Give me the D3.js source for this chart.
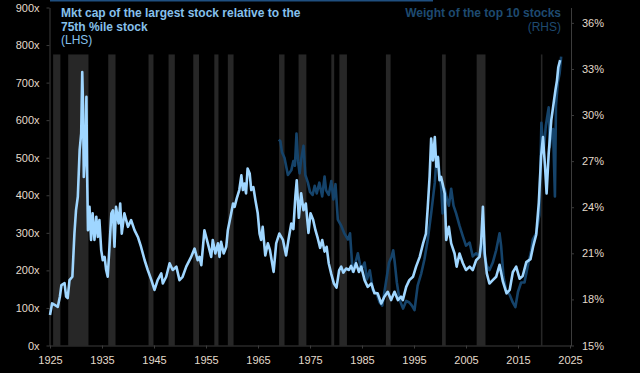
<!DOCTYPE html>
<html>
<head>
<meta charset="utf-8">
<script src="https://cdn.jsdelivr.net/npm/d3@7"></script>
<style>
  html, body { margin: 0; padding: 0; background: #000; }
  svg { display: block; font-family: "Liberation Sans", Arial, sans-serif; }
  .axis text { fill: #e3dacb; font-size: 11px; }
  .axis path, .axis line { stroke: #3c3c3c; }
</style>
</head>
<body>
<div id="chart"></div>
<script>
// Chart data

// Mkt cap of largest stock / 75th %ile stock (LHS, x)
const lhsYears = [1925.0, 1925.4, 1925.9, 1926.5, 1926.9, 1927.2, 1927.8, 1928.1, 1928.4, 1928.75,
  1929.3, 1929.7, 1930.0, 1930.35, 1930.7, 1931.0, 1931.2, 1931.35, 1931.5, 1931.8,
  1932.0, 1932.15, 1932.3, 1932.6, 1932.9, 1933.2, 1933.55, 1933.9, 1934.2, 1934.5,
  1934.85, 1935.15, 1935.5, 1935.8, 1936.1, 1936.4, 1936.8, 1937.1, 1937.4, 1937.7,
  1938.2, 1938.5, 1938.8, 1939.3, 1940.0, 1940.6, 1941.25, 1941.9, 1942.5, 1943.2,
  1943.8, 1944.5, 1945.1, 1945.7, 1946.4, 1946.7, 1947.35, 1948.0, 1948.6, 1949.3,
  1949.9, 1950.5, 1951.2, 1952.15, 1952.8, 1953.4, 1953.75, 1954.1, 1954.7, 1955.35,
  1956.0, 1956.3, 1956.8, 1957.3, 1957.6, 1957.9, 1958.4, 1958.9, 1959.2, 1959.85,
  1960.2, 1960.5, 1960.9, 1961.4, 1961.8, 1962.1, 1962.4, 1962.7, 1963.0, 1963.4,
  1963.7, 1964.1, 1964.5, 1964.95, 1965.3, 1965.6, 1965.9, 1966.4, 1966.9, 1967.3,
  1968.0, 1968.5, 1969.1, 1969.8, 1970.4, 1970.9, 1971.4, 1971.8, 1972.2, 1972.45,
  1972.85, 1973.3, 1973.75, 1974.2, 1974.7, 1975.1, 1975.6, 1976.05, 1976.5, 1976.95,
  1977.35, 1977.8, 1978.2, 1978.6, 1979.1, 1979.6, 1980.1, 1980.6, 1981.0, 1981.4,
  1981.95, 1982.5, 1982.9, 1983.35, 1983.85, 1984.4, 1984.85, 1985.5, 1986.1, 1986.8,
  1987.4, 1988.0, 1988.7, 1989.3, 1989.95, 1990.6, 1991.25, 1991.9, 1992.5, 1992.85,
  1993.5, 1994.1, 1994.8, 1995.4, 1996.1, 1996.75, 1997.3, 1997.65, 1998.0, 1998.3,
  1998.65, 1999.0, 1999.3, 1999.6, 1999.9, 2000.2, 2000.5, 2000.9, 2001.2, 2001.7,
  2002.15, 2002.8, 2003.2, 2003.75, 2004.4, 2005.0, 2005.7, 2006.3, 2006.95, 2007.6,
  2007.9, 2008.25, 2008.6, 2009.0, 2009.5, 2010.15, 2010.8, 2011.45, 2012.1, 2012.8,
  2013.4, 2014.0, 2014.65, 2015.3, 2015.9, 2016.6, 2017.4, 2017.9, 2018.5, 2019.0,
  2019.45, 2019.8, 2020.2, 2020.5, 2020.9, 2021.4, 2021.7, 2022.2, 2022.5, 2022.75, 2023.1]
const lhsValues = [81, 112, 108, 103, 130, 161, 166, 130, 126, 174,
  183, 299, 360, 396, 520, 565, 728, 640, 449, 520,
  662, 449, 307, 369, 281, 352, 281, 343, 289, 334,
  254, 227, 236, 201, 183, 254, 352, 360, 263, 369,
  325, 378, 298, 352, 316, 334, 307, 289, 263, 227,
  201, 174, 148, 174, 192, 165, 183, 219, 201, 210,
  174, 183, 210, 236, 258, 227, 236, 214, 307, 272,
  236, 281, 245, 272, 236, 276, 245, 263, 307, 352,
  378, 369, 391, 414, 453, 414, 431, 405, 471, 458,
  414, 422, 387, 352, 298, 281, 316, 240, 272, 254,
  196, 272, 298, 281, 240, 285, 325, 310, 400, 440,
  340, 405, 360, 378, 300, 352, 335, 307, 285, 260,
  281, 250, 263, 219, 190, 165, 154, 200, 210, 194,
  205, 201, 212, 196, 219, 196, 210, 174, 156, 165,
  139, 139, 112, 130, 143, 121, 143, 121, 130, 121,
  156, 174, 183, 210, 236, 272, 298, 369, 449, 551,
  493, 555, 476, 502, 440, 449, 431, 405, 281, 316,
  272, 245, 210, 245, 219, 201, 210, 201, 227, 236,
  272, 369, 245, 192, 165, 174, 183, 215, 170, 139,
  148, 195, 210, 178, 185, 222, 230, 263, 295, 380,
  505, 555, 476, 405, 511, 600, 630, 680, 706, 741, 760]

// Weight of the top 10 stocks (RHS, %)
const rhsYears = [1969.0, 1969.3, 1969.6, 1970.1, 1970.75, 1971.4, 1971.8, 1972.1, 1972.4, 1972.7,
  1973.0, 1973.3, 1973.75, 1974.1, 1974.6, 1975.0, 1975.5, 1975.9, 1976.3, 1976.8,
  1977.35, 1977.8, 1978.1, 1978.6, 1979.1, 1979.5, 1979.9, 1980.35, 1981.0, 1981.6,
  1982.3, 1982.7, 1983.2, 1983.75, 1984.2, 1984.85, 1985.5, 1985.95, 1986.5, 1987.1,
  1987.8, 1988.4, 1988.9, 1989.6, 1990.2, 1990.7, 1991.0, 1991.3, 1991.7, 1992.2,
  1992.9, 1993.5, 1994.1, 1994.6, 1995.1, 1995.7, 1996.4, 1997.0, 1997.65, 1998.3,
  1999.0, 1999.3, 1999.6, 1999.9, 2000.2, 2000.5, 2000.9, 2001.2, 2001.7, 2002.15,
  2002.6, 2003.1, 2003.75, 2004.4, 2005.0, 2005.7, 2006.3, 2006.95, 2007.6, 2008.1,
  2008.6, 2009.0, 2009.5, 2010.15, 2010.8, 2011.45, 2011.75, 2012.2, 2012.7, 2013.4,
  2014.0, 2014.5, 2015.0, 2015.6, 2016.25, 2016.9, 2017.55, 2017.85, 2018.5, 2019.1,
  2019.5, 2019.9, 2020.35, 2020.9, 2021.1, 2021.5, 2021.75, 2022.1, 2022.3, 2022.65,
  2023.0, 2023.3]
const rhsValues = [28.4, 28.3, 27.6, 27.2, 26.1, 26.4, 27.0, 26.7, 28.8, 27.0,
  26.2, 27.1, 28.0, 26.1, 25.6, 25.0, 24.8, 25.4, 24.9, 25.6,
  24.7, 26.0, 25.1, 24.8, 25.7, 24.5, 25.5, 23.2, 22.8, 22.3,
  21.9, 22.3, 19.8, 20.4, 21.0, 19.9, 20.4, 19.3, 19.9, 18.6,
  18.4, 17.8, 17.6, 19.1, 20.4, 20.8, 21.2, 20.4, 19.1, 18.0,
  17.4, 17.9, 17.8, 17.6, 17.3, 18.9, 19.7, 20.6, 21.9, 23.6,
  25.6, 27.1, 27.3, 26.2, 25.4, 23.6, 25.2, 24.7, 24.1, 25.2,
  24.1, 23.6, 22.8, 22.1, 21.5, 21.7, 20.8, 21.0, 20.8, 21.7,
  20.8, 20.2, 19.9, 20.4, 21.2, 22.3, 21.5, 19.5, 18.6, 18.3,
  17.8, 17.5, 18.5, 19.1, 19.1, 20.2, 21.2, 21.9, 22.3, 23.5,
  29.5, 27.5, 29.3, 30.5, 27.9, 29.0, 29.1, 24.7, 30.6, 32.1,
  32.7, 33.8]

// Shaded recession periods (as placed in the picture)
const recessionStart = [1925.6, 1928.5, 1936.2, 1943.95, 1947.8, 1952.55, 1956.6, 1959.2, 1969.05, 1972.8,
  1979.1, 1980.65, 1989.6, 2000.4, 2007.05, 2019.4]
const recessionEnd = [1927.0, 1932.4, 1937.6, 1944.9, 1949.0, 1953.65, 1957.4, 1960.3, 1970.1, 1974.3,
  1979.65, 1982.1, 1990.5, 2001.1, 2008.75, 2019.7]
const shadeTop = 775

// Tick labels
const xTicks = [1925, 1935, 1945, 1955, 1965, 1975, 1985, 1995, 2005, 2015, 2025]
const lhsTicks = [0, 100, 200, 300, 400, 500, 600, 700, 800, 900]
const rhsTicks = [15, 18, 21, 24, 27, 30, 33, 36]

const width = 640
const height = 373
const lightBlue = '#9fd6ff'
const darkBlue = '#15436a'

const svg = d3.select('#chart')
  .append('svg')
  .attr('width', width)
  .attr('height', height)

svg.append('rect')
  .attr('width', width)
  .attr('height', height)
  .attr('fill', '#000')

// thin blue strip along the top edge
svg.append('rect')
  .attr('x', 50).attr('y', 0)
  .attr('width', 383).attr('height', 1.5)
  .attr('fill', '#1f4f80')

// Scales
const x = d3.scaleLinear().domain([1925, 2025]).range([50, 570])
const yL = d3.scaleLinear().domain([0, 900]).range([345.5, 7.5])
const yR = d3.scaleLinear().domain([15, 37]).range([345.5, 7.5])

// Recession bars
svg.append('g')
  .selectAll('rect')
  .data(recessionStart)
  .enter().append('rect')
  .attr('x', (d) => x(d))
  .attr('width', (d, i) => x(recessionEnd[i]) - x(d))
  .attr('y', yL(shadeTop))
  .attr('height', yL(0) - yL(shadeTop))
  .attr('fill', '#272727')

// Axes
svg.append('g')
  .attr('class', 'axis')
  .attr('transform', 'translate(49.5,0)')
  .call(d3.axisLeft(yL).tickValues(lhsTicks).tickSize(3).tickSizeOuter(0).tickPadding(7)
    .tickFormat(d => d + 'x'))

svg.append('g')
  .attr('class', 'axis')
  .attr('transform', 'translate(571,0)')
  .call(d3.axisRight(yR).tickValues(rhsTicks).tickSize(3).tickSizeOuter(0).tickPadding(8)
    .tickFormat(d => d + '%'))

const xAxis = svg.append('g')
  .attr('class', 'axis')
  .attr('transform', 'translate(0,345.5)')
  .call(d3.axisBottom(x).tickValues(xTicks).tickSize(3).tickSizeOuter(0).tickPadding(8)
    .tickFormat(d3.format('d')))
xAxis.select('.domain').attr('d', `M49.5,0.5H571`)

// Lines
const lineR = d3.line()
  .x((d, i) => x(rhsYears[i]))
  .y(d => yR(d))
const lineL = d3.line()
  .x((d, i) => x(lhsYears[i]))
  .y(d => yL(d))

svg.append('path')
  .datum(rhsValues)
  .attr('d', lineR)
  .attr('fill', 'none')
  .attr('stroke', darkBlue)
  .attr('stroke-width', 2.6)
  .attr('stroke-linejoin', 'round')

svg.append('path')
  .datum(lhsValues)
  .attr('d', lineL)
  .attr('fill', 'none')
  .attr('stroke', lightBlue)
  .attr('stroke-width', 2.6)
  .attr('stroke-linejoin', 'round')

// Titles
const leftTitle = svg.append('text')
  .attr('x', 61)
  .attr('fill', '#86c0ec')
  .style('font-size', '12px')
leftTitle.append('tspan').attr('x', 61).attr('y', 17).style('font-weight', 'bold')
  .text('Mkt cap of the largest stock relative to the')
leftTitle.append('tspan').attr('x', 61).attr('y', 30.5).style('font-weight', 'bold')
  .text('75th %ile stock')
leftTitle.append('tspan').attr('x', 61).attr('y', 44)
  .text('(LHS)')

const rightTitle = svg.append('text')
  .attr('text-anchor', 'end')
  .attr('fill', '#1e4a70')
  .style('font-size', '12px')
rightTitle.append('tspan').attr('x', 561).attr('y', 17).style('font-weight', 'bold')
  .text('Weight of the top 10 stocks')
rightTitle.append('tspan').attr('x', 561).attr('y', 31)
  .text('(RHS)')
</script>
</body>
</html>
